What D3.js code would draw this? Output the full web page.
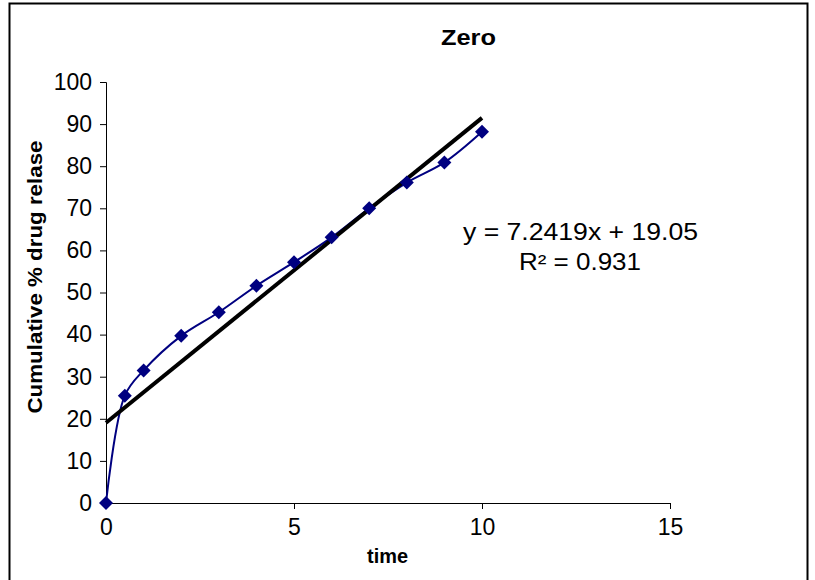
<!DOCTYPE html>
<html><head><meta charset="utf-8">
<script src="https://cdn.jsdelivr.net/npm/d3@7"></script>
<style>body{margin:0;background:#fff}</style></head>
<body><svg id="c" width="815" height="580"></svg>
<script>
const times=[0,0.5,1,2,3,4,5,6,7,8,9,10];
const release=[0,25.5,31.5,39.7,45.3,51.6,57.2,63.1,70,76.1,80.9,88.2];
const xTicks=[0,5,10,15];
const yTicks=[0,10,20,30,40,50,60,70,80,90,100];
const slope=7.2419, intercept=19.05;
const svg=d3.select("#c");
const F="Arial, 'Liberation Sans', sans-serif";
svg.append("rect").attr("x",9.5).attr("y",3.5).attr("width",798).attr("height",590).attr("fill","none").attr("stroke","#000").attr("stroke-width",2);
const x=d3.scaleLinear().domain([0,15]).range([106,670]);
const y=d3.scaleLinear().domain([0,100]).range([503,82]);
const xa=svg.append("g").attr("transform","translate(0,503)").call(d3.axisBottom(x).tickValues(xTicks).tickSize(6).tickPadding(10));
const ya=svg.append("g").attr("transform","translate(106,0)").call(d3.axisLeft(y).tickValues(yTicks).tickSize(6).tickPadding(8));
[xa,ya].forEach(a=>{a.selectAll("text").attr("font-family",F).attr("font-size",23).attr("fill","#000");a.selectAll("line,path").attr("stroke","#000");});
const pts=times.map((t,i)=>[t,release[i]]);
svg.append("path").attr("d",d3.line().x(d=>x(d[0])).y(d=>y(d[1])).curve(d3.curveCatmullRom.alpha(0.5))(pts)).attr("fill","none").attr("stroke","#000080").attr("stroke-width",2);
svg.append("line").attr("x1",x(0)).attr("y1",y(intercept)).attr("x2",x(10)).attr("y2",y(slope*10+intercept)).attr("stroke","#000").attr("stroke-width",4);
svg.selectAll(".m").data(pts).enter().append("path").attr("transform",d=>`translate(${x(d[0])},${y(d[1])})`).attr("d","M0,-7L7,0L0,7L-7,0Z").attr("fill","#000080");
svg.append("text").attr("x",441).attr("y",45).attr("font-family",F).attr("font-weight","bold").attr("font-size",22).attr("textLength",55).attr("lengthAdjust","spacingAndGlyphs").text("Zero");
svg.append("text").attr("x",367).attr("y",563).attr("font-family",F).attr("font-weight","bold").attr("font-size",20).attr("textLength",41).attr("lengthAdjust","spacingAndGlyphs").text("time");
svg.append("text").attr("transform","translate(42,277) rotate(-90)").attr("text-anchor","middle").attr("font-family",F).attr("font-weight","bold").attr("font-size",20).attr("textLength",273).attr("lengthAdjust","spacingAndGlyphs").text("Cumulative % drug relase");
svg.append("text").attr("x",463).attr("y",240).attr("font-family",F).attr("font-size",23).attr("textLength",235).attr("lengthAdjust","spacingAndGlyphs").text("y = 7.2419x + 19.05");
svg.append("text").attr("x",519).attr("y",270).attr("font-family",F).attr("font-size",23).attr("textLength",122).attr("lengthAdjust","spacingAndGlyphs").text("R² = 0.931");
</script></body></html>
